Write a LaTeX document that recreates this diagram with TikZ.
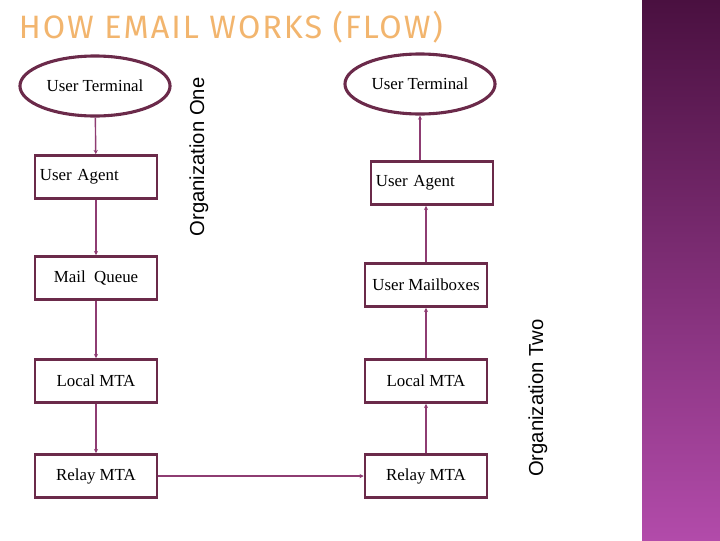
\documentclass[tikz,border=0pt]{standalone}
\usepackage{fontspec}
\setmainfont{Liberation Serif}
\newfontfamily\orgfont{Liberation Sans}
\newfontfamily\titlefont[LetterSpace=6]{Fira Sans}
\usetikzlibrary{shapes.geometric, arrows.meta}
\definecolor{edgec}{HTML}{6B2A4A}
\definecolor{linec}{HTML}{8E3C72}
\definecolor{titlec}{HTML}{F2B56E}
\definecolor{bandtop}{HTML}{4A1040}
\definecolor{bandbot}{HTML}{B24BAA}
\tikzset{
    box/.style={rectangle, draw=edgec, line width=1.8pt, minimum width=3.05cm, minimum height=1.08cm, font=\large, inner sep=2pt},
    term/.style={ellipse, draw=edgec, line width=2.2pt, minimum width=3.6cm, minimum height=1.5cm, font=\large},
    org/.style={rotate=90, font=\orgfont\Large},
    flow/.style={draw=linec, line width=1pt, -{Stealth[length=3pt,width=3pt]}}
}
\begin{document}
\begin{tikzpicture}[x=0.025cm, y=-0.025cm]
    \useasboundingbox (0,0) rectangle (720,540);
    % right band
    \shade[top color=bandtop, bottom color=bandbot] (642,0) rectangle (720,540);
    % title
    \node[anchor=west, text=titlec, font=\titlefont\fontsize{23}{23}\selectfont] (title) at (14,27) {HOW EMAIL WORKS (FLOW)};

    % organization one
    \node[term] (ut1) at (95,86) {User Terminal};
    \node[box, text width=2.8cm, align=left] (ua1) at (96,177) {User Agent};
    \node[box] (mq) at (96,278) {Mail\ \ Queue};
    \node[box] (lm1) at (96,381) {Local MTA};
    \node[box] (rm1) at (96,476) {Relay MTA};
    \node[org] (org1) at (199,157) {Organization One};

    % organization two
    \node[term] (ut2) at (420,84) {User Terminal};
    \node[box, text width=2.8cm, align=left] (ua2) at (432,183) {User Agent};
    \node[box] (mb) at (426,285) {User Mailboxes};
    \node[box] (lm2) at (426,381) {Local MTA};
    \node[box] (rm2) at (426,476) {Relay MTA};
    \node[org] (org2) at (538,398) {Organization Two};

    % connectors
    \draw[flow] (ut1) -- (ua1);
    \draw[flow] (ua1) -- (mq);
    \draw[flow] (mq) -- (lm1);
    \draw[flow] (lm1) -- (rm1);
    \draw[flow] (rm1) -- (rm2);
    \draw[flow] (rm2) -- (lm2);
    \draw[flow] (lm2) -- (mb);
    \draw[flow] (mb.north) -- (mb.north |- ua2.south);
    \draw[flow] (ua2.north -| ut2.south) -- (ut2.south);
\end{tikzpicture}
\end{document}
